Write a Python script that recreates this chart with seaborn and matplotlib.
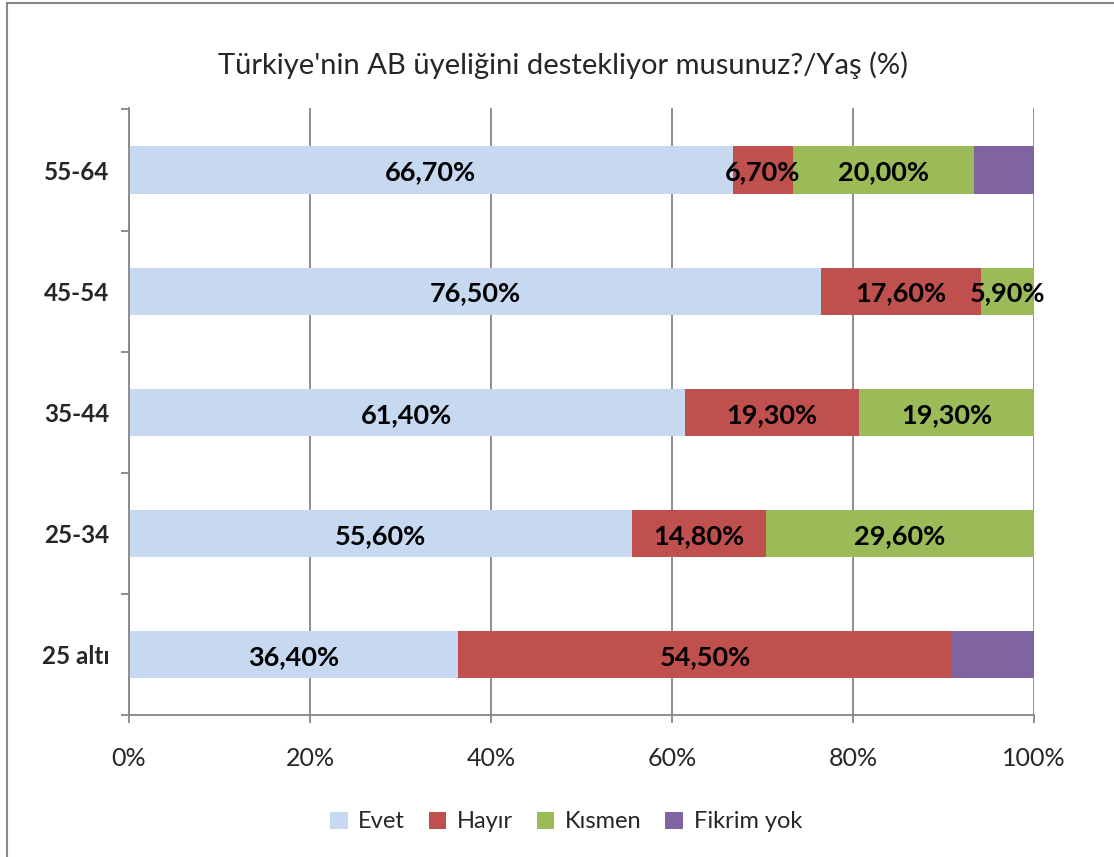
import numpy as np
import pandas as pd
import matplotlib.pyplot as plt
import seaborn as sns
from matplotlib.patches import Rectangle, Patch

# Veri (yukarıdan aşağıya)
yas_gruplari = ['55-64', '45-54', '35-44', '25-34', '25 altı']
seriler = ['Evet', 'Hayır', 'Kısmen', 'Fikrim yok']
evet = [66.7, 76.5, 61.4, 55.6, 36.4]
hayir = [6.7, 17.6, 19.3, 14.8, 54.5]
kismen = [20.0, 5.9, 19.3, 29.6, 0.0]
fikrim_yok = [6.6, 0.0, 0.0, 0.0, 9.1]
renkler = ['#C6D9F1', '#C0504D', '#9BBB59', '#8064A2']

sns.set_style('white')
plt.rcParams['font.family'] = ['Lato', 'DejaVu Sans']

degerler = np.array([evet, hayir, kismen, fikrim_yok])
kumulatif = np.cumsum(degerler, axis=0)

fig = plt.figure(figsize=(11.14, 8.57), dpi=100)
ax = fig.add_axes([129 / 1114, 142 / 857, 905 / 1114, 607 / 857])

# Yığılmış çubuklar: arkadan öne kümülatif toplamlar
for i in range(len(seriler) - 1, -1, -1):
    df = pd.DataFrame({'yas': yas_gruplari, 'deger': kumulatif[i]})
    sns.barplot(data=df, x='deger', y='yas', order=yas_gruplari, orient='h',
                color=renkler[i], saturation=1, width=0.39, ax=ax,
                edgecolor='none', linewidth=0)

# Veri etiketleri (Fikrim yok hariç)
for i in range(3):
    for j, v in enumerate(degerler[i]):
        if v <= 0:
            continue
        merkez = kumulatif[i][j] - v / 2
        ax.text(merkez, j + 0.02, f'{v:.2f}'.replace('.', ',') + '%',
                ha='center', va='center', fontsize=19.5, fontweight='bold',
                color='black')

ax.set_xlim(0, 100)
ax.set_ylim(4.5 - 0.012, -0.5 - 0.012)
ax.set_xticks(np.arange(0, 101, 20))
ax.set_xticklabels([f'{t}%' for t in range(0, 101, 20)], fontsize=18)
ax.set_yticks(np.arange(-0.5, 5, 1))
ax.set_yticklabels([])
ax.set_yticks(range(len(yas_gruplari)), yas_gruplari, minor=True)
ax.tick_params(axis='y', which='minor', length=0, pad=14, labelsize=17.5)
for lbl in ax.get_yticklabels(minor=True):
    lbl.set_fontweight('bold')
ax.tick_params(axis='y', which='major', length=6, width=1.3, color='#868686', direction='out', left=True)
ax.tick_params(axis='x', length=6, width=1.3, color='#868686', direction='out', pad=17, bottom=True)
ax.set_xlabel('')
ax.set_ylabel('')

ax.grid(axis='x', color='#868686', linewidth=1.3)
ax.set_axisbelow(True)
for s in ['top', 'right']:
    ax.spines[s].set_visible(False)
for s in ['left', 'bottom']:
    ax.spines[s].set_color('#868686')
    ax.spines[s].set_linewidth(1.3)

fig.text(0.505, 1 - 65 / 857, "Türkiye'nin AB üyeliğini destekliyor musunuz?/Yaş (%)",
         ha='center', va='center', fontsize=21)

handles = [Patch(facecolor=c, edgecolor='none') for c in renkler]
fig.legend(handles, seriler, loc='center', bbox_to_anchor=(0.508, 1 - 822 / 857),
           ncol=4, frameon=False, fontsize=17, handlelength=0.75, handleheight=0.75,
           handletextpad=0.45, columnspacing=1.0)

fig.patches.append(Rectangle((7 / 1114, -0.1), 1.2, 1 - 3 / 857 + 0.1,
                             transform=fig.transFigure, fill=False,
                             edgecolor='#868686', linewidth=1.5))

fig.savefig('out.png', dpi=100)
